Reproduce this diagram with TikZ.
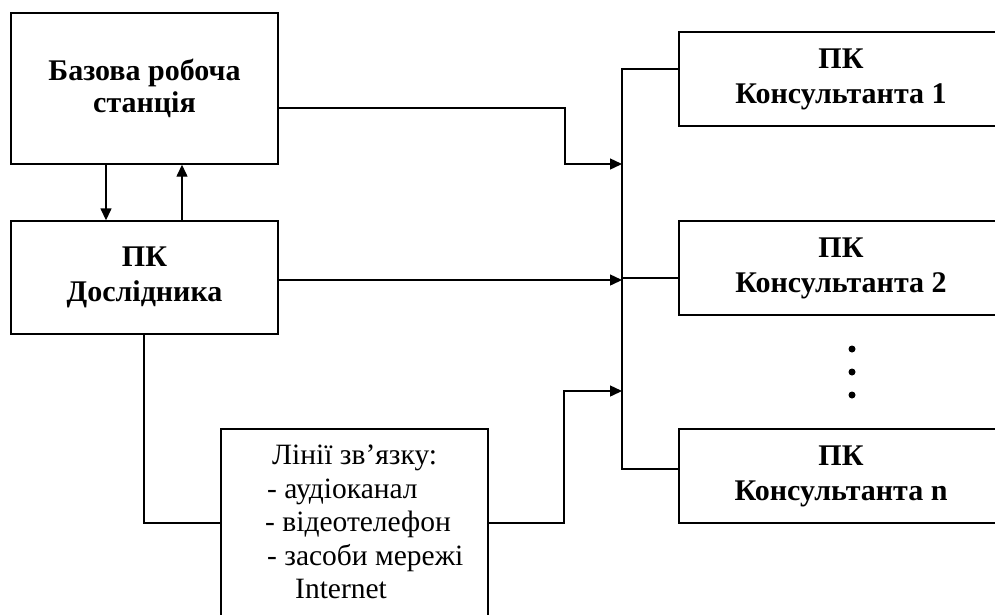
\documentclass[tikz,border=0pt]{standalone}
\usepackage{fontspec}
\setmainfont{Liberation Serif}
\usetikzlibrary{arrows.meta}
\begin{document}
\begin{tikzpicture}[x=1pt,y=-1pt,
  box/.style={draw, line width=1.4pt, inner sep=0pt, align=center, font=\fontsize{30}{35}\selectfont\bfseries},
  conn/.style={line width=1.4pt},
  arr/.style={line width=1.4pt, -{Triangle[length=12pt,width=11pt]}}]
\useasboundingbox (0,0) rectangle (995,614);
\clip (0,0) rectangle (995,614);
% left boxes
\node[box, minimum width=267, minimum height=151, font=\fontsize{30}{32}\selectfont\bfseries] (b1) at (144.5,88.5) {Базова робоча\\станція};
\node[box, minimum width=267, minimum height=113] (b2) at (144.5,277.5) {ПК\\Дослідника};
% communication box
\node[draw, line width=1.4pt, minimum width=267, minimum height=188, inner sep=0pt] (lin) at (354.5,523) {};
\node[anchor=north west, inner sep=0pt, align=left, font=\fontsize{29.5}{33.5}\selectfont] (lintext) at (265,445)
  {\hspace*{7pt}Лінії зв’язку:\\\hspace*{2pt}- аудіоканал\\- відеотелефон\\\hspace*{2pt}- засоби мережі\\\hspace*{30pt}Internet};
% right boxes
\node[box, minimum width=324, minimum height=94] (c1) at (841,79) {ПК\\Консультанта 1};
\node[box, minimum width=324, minimum height=94] (c2) at (841,268) {ПК\\Консультанта 2};
\node[box, minimum width=324, minimum height=94] (cn) at (841,476) {ПК\\Консультанта n};
% dots
\fill (852,349) circle (3.5);
\fill (852,372) circle (3.5);
\fill (852,395) circle (3.5);
% bus coordinates
\coordinate (bustop) at (622,69);
\coordinate (busbot) at (622,469);
\coordinate (bus1) at (622,164);
\coordinate (bus2) at (622,280);
\coordinate (bus3) at (622,391);
\coordinate (busc2) at (622,278);
% vertical arrows between b1 and b2
\draw[arr] ([xshift=-38.5pt]b1.south) -- ([xshift=-38.5pt]b2.north);
\draw[arr] ([xshift=37.5pt]b2.north) -- ([xshift=37.5pt]b1.south);
% b1 to bus
\draw[arr] ([yshift=-19.5pt]b1.east) -| (565,164) -- (bus1);
% b2 to bus
\draw[arr] (b2.east |- bus2) -- (bus2);
% b2 to lin
\draw[conn] ([xshift=-0.5pt]b2.south) |- (lin.west);
% lin to bus
\draw[arr] (lin.east) -| (564,391) -- (bus3);
% bus
\draw[conn] (c1.west |- bustop) -| (busbot) -- (cn.west |- busbot);
\draw[conn] (busc2) -- (c2.west |- busc2);
\end{tikzpicture}
\end{document}
